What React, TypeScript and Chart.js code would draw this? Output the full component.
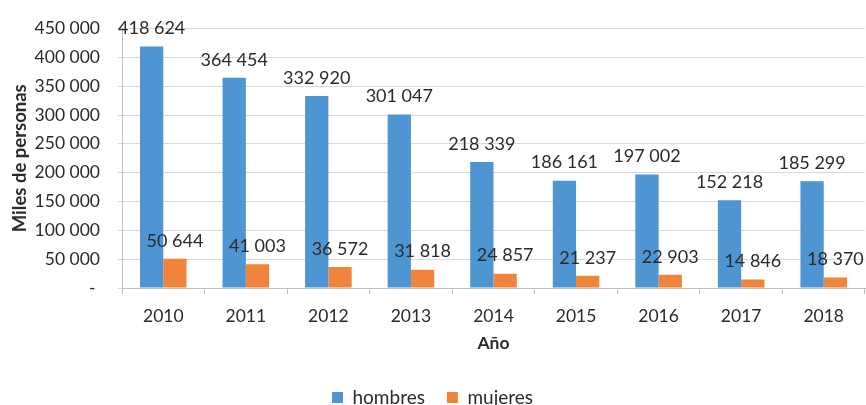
import React, { useEffect, useRef } from "react";
import { Chart, registerables } from "chart.js";

Chart.register(...registerables);

const years = ["2010", "2011", "2012", "2013", "2014", "2015", "2016", "2017", "2018"];
const hombres = [418624, 364454, 332920, 301047, 218339, 186161, 197002, 152218, 185299];
const mujeres = [50644, 41003, 36572, 31818, 24857, 21237, 22903, 14846, 18370];
const seriesNames = ["hombres", "mujeres"];

const FONT = "Lato, 'Open Sans', sans-serif";
const TEXT = "#2b2b2b";

const fmt = (v: number) => (v === 0 ? "- " : String(v).replace(/\B(?=(\d{3})+(?!\d))/g, " "));

const labelPlugin = {
  id: "barLabels",
  afterDatasetsDraw(chart: any) {
    const ctx = chart.ctx;
    ctx.save();
    ctx.font = `18px ${FONT}`;
    ctx.fillStyle = TEXT;
    ctx.textAlign = "center";
    ctx.textBaseline = "middle";
    chart.data.datasets.forEach((ds: any, di: number) => {
      const meta = chart.getDatasetMeta(di);
      meta.data.forEach((el: any, i: number) => {
        ctx.fillText(fmt(ds.data[i]), el.x, el.y - 18);
      });
    });
    ctx.restore();
  },
};

export default function App() {
  const ref = useRef<HTMLCanvasElement | null>(null);
  useEffect(() => {
    if (!ref.current) return;
    const chart = new Chart(ref.current, {
      type: "bar",
      data: {
        labels: years,
        datasets: [
          { label: seriesNames[0], data: hombres, backgroundColor: "#4E95D2", categoryPercentage: 0.564, barPercentage: 1 },
          { label: seriesNames[1], data: mujeres, backgroundColor: "#F0843A", categoryPercentage: 0.564, barPercentage: 1 },
        ],
      },
      options: {
        animation: false,
        responsive: true,
        maintainAspectRatio: false,
        layout: { padding: { top: 24, right: 1, left: 0, bottom: -12 } },
        plugins: {
          tooltip: { enabled: false },
          legend: {
            position: "bottom",
            labels: {
              boxWidth: 11,
              boxHeight: 11,
              padding: 22,
              color: TEXT,
              font: { family: FONT, size: 19 },
            },
          },
        },
        scales: {
          x: {
            grid: { drawOnChartArea: false, drawTicks: true, tickLength: 6, offset: true, color: "#BFBFBF" },
            border: { display: true, color: "#BFBFBF" },
            ticks: { color: TEXT, font: { family: FONT, size: 17.5 }, padding: 12, maxRotation: 0 },
            title: {
              display: true,
              text: "Año",
              color: TEXT,
              font: { family: FONT, size: 17.5, weight: "bold" },
              padding: { top: 0, bottom: 12 },
            },
            afterFit(scale: any) {
              scale.height = 78;
            },
          },
          y: {
            min: 0,
            max: 450000,
            grid: { color: "#D9D9D9", drawTicks: true, tickLength: 4 },
            border: { display: true, color: "#BFBFBF" },
            ticks: {
              stepSize: 50000,
              color: TEXT,
              font: { family: FONT, size: 17.5 },
              padding: 18,
              callback: (v: any) => fmt(Number(v)),
            },
            title: {
              display: true,
              text: "Miles de personas",
              color: TEXT,
              font: { family: FONT, size: 18.5, weight: "bold" },
              padding: { top: 9, bottom: 0 },
            },
            afterFit(scale: any) {
              scale.width = 122;
            },
          },
        },
      },
      plugins: [labelPlugin],
    });
    return () => chart.destroy();
  }, []);
  return (
    <div style={{ position: "fixed", left: 0, top: 0, width: 866, height: 405, background: "#fff" }}>
      <canvas ref={ref} />
    </div>
  );
}
